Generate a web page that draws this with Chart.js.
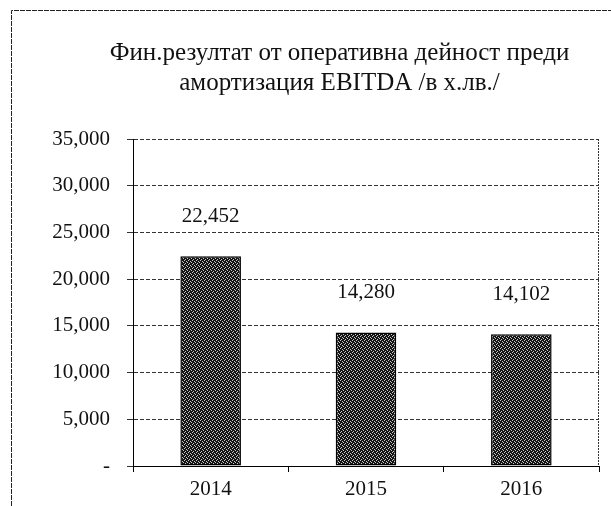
<!DOCTYPE html>
<html>
<head>
<meta charset="utf-8">
<script src="https://cdn.jsdelivr.net/npm/chart.js@4"></script>
<style>
  html, body { margin: 0; padding: 0; background: #fff; }
  #wrap { width: 611px; height: 506px; }
</style>
</head>
<body>
<div id="wrap"><canvas id="myChart" width="611" height="506"></canvas></div>
<script>
const years = ['2014', '2015', '2016']
const ebitda = [22452, 14280, 14102]
const titleLines = ['Фин.резултат от оперативна дейност преди', 'амортизация EBITDA /в х.лв./']
const yTicks = [0, 5000, 10000, 15000, 20000, 25000, 30000, 35000]

const serif = 'Liberation Serif'
const fmt = (v) => v === 0 ? '-' : v.toLocaleString('en-US')

// dithered fill like the scanned bars
const makePattern = () => {
    const c = document.createElement('canvas')
    c.width = 4
    c.height = 4
    const g = c.getContext('2d')
    g.fillStyle = '#141414'
    g.fillRect(0, 0, 4, 4)
    g.fillStyle = '#c8c8c8'
    ;[[0, 0], [2, 1], [1, 3], [3, 2]].forEach(([x, y]) => g.fillRect(x, y, 1, 1))
    return g.createPattern(c, 'repeat')
}

const frame = {
    id: 'frame',
    beforeDraw(chart) {
        const ctx = chart.ctx
        ctx.save()
        ctx.fillStyle = '#fff'
        ctx.fillRect(0, 0, chart.width, chart.height)
        ctx.strokeStyle = '#222'
        ctx.lineWidth = 1
        ctx.setLineDash([5, 1])
        ctx.beginPath()
        ctx.moveTo(11.5, chart.height)
        ctx.lineTo(11.5, 10.5)
        ctx.lineTo(chart.width, 10.5)
        ctx.stroke()
        ctx.restore()
    },
    afterDraw(chart) {
        const a = chart.chartArea
        const ctx = chart.ctx
        ctx.save()
        ctx.strokeStyle = '#333'
        ctx.lineWidth = 1
        ctx.setLineDash([2, 1])
        ctx.beginPath()
        ctx.moveTo(a.right - 0.5, a.top)
        ctx.lineTo(a.right - 0.5, a.bottom)
        ctx.stroke()
        // title sits a bit right of the canvas centre in the original
        ctx.setLineDash([])
        ctx.fillStyle = '#111'
        ctx.font = '25px "' + serif + '"'
        ctx.textAlign = 'center'
        ctx.textBaseline = 'middle'
        titleLines.forEach((line, i) => {
            ctx.fillText(line, chart.width / 2 + 34, 53 + i * 30)
        })
        ctx.restore()
    }
}

const valueLabels = {
    id: 'valueLabels',
    afterDatasetsDraw(chart) {
        const ctx = chart.ctx
        const meta = chart.getDatasetMeta(0)
        ctx.save()
        ctx.fillStyle = '#111'
        ctx.font = '21px "' + serif + '"'
        ctx.textAlign = 'center'
        ctx.textBaseline = 'middle'
        meta.data.forEach((bar, i) => {
            ctx.fillText(fmt(ebitda[i]), bar.x, bar.y - 40)
        })
        ctx.restore()
    }
}

const config = {
    type: 'bar',
    data: {
        labels: years,
        datasets: [{
            label: 'EBITDA',
            data: ebitda,
            backgroundColor: makePattern(),
            borderColor: '#000',
            borderWidth: 1.5,
            borderSkipped: false,
            categoryPercentage: 1,
            barPercentage: 0.39
        }]
    },
    options: {
        responsive: false,
        animation: false,
        layout: { padding: { left: 0, right: 12, top: 139, bottom: 0 } },
        plugins: {
            legend: { display: false },
            tooltip: { enabled: false },
            title: { display: false }
        },
        scales: {
            x: {
                afterFit: (s) => { s.height = 40 },
                grid: { offset: true, drawOnChartArea: false, color: '#000', tickLength: 6 },
                border: { display: true, color: '#000', width: 1 },
                ticks: { color: '#111', font: { family: serif, size: 21 }, padding: 5 }
            },
            y: {
                min: 0,
                max: 35000,
                afterFit: (s) => { s.width = 133 },
                afterBuildTicks: (s) => { s.ticks = yTicks.map((v) => ({ value: v })) },
                grid: { color: '#333', lineWidth: 1, tickLength: 6 },
                border: { display: true, color: '#000', width: 1, dash: [4, 2] },
                ticks: {
                    color: '#111',
                    font: { family: serif, size: 21 },
                    padding: 17,
                    callback: (v) => fmt(v)
                }
            }
        }
    },
    plugins: [frame, valueLabels]
}

new Chart(document.getElementById('myChart'), config)
</script>
</body>
</html>
